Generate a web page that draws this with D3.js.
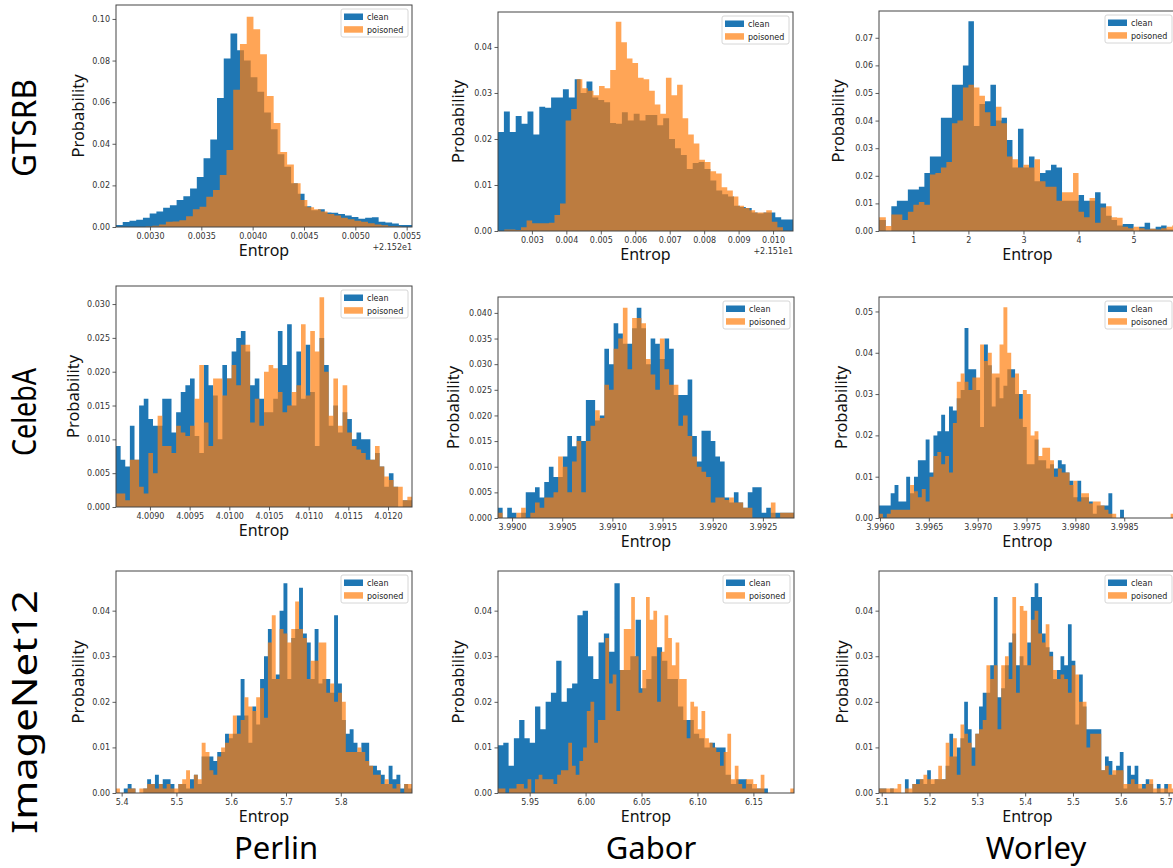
<!DOCTYPE html>
<html><head><meta charset="utf-8">
<script src="https://cdn.jsdelivr.net/npm/d3@7"></script>
<style>body{margin:0;background:#fff} svg{display:block}</style>
</head><body>
<svg id="chart" width="1173" height="868"></svg>
<script>
// ---------------- DATA ----------------
const rowLabels = ["GTSRB", "CelebA", "ImageNet12"];
const colLabels = ["Perlin", "Gabor", "Worley"];
const seriesNames = ["clean", "poisoned"];
const xAxisTitle = "Entrop";
const yAxisTitle = "Probability";

// Panel 1: GTSRB / Perlin (values relative to +2.152e1)
const p1Clean = [0.001,0.0024,0.003,0.0035,0.0045,0.0065,0.0075,0.0093,0.0105,0.013,0.0148,0.0185,0.024,0.033,0.042,0.062,0.081,0.093,0.085,0.080,0.072,0.065,0.055,0.047,0.035,0.029,0.021,0.016,0.010,0.008,0.0085,0.007,0.0068,0.0063,0.0055,0.0048,0.0040,0.0045,0.0047,0.0025,0.0022,0.0017,0.001,0.001];
const p1CleanRange = [0.002669, 0.005555];
const p1Poisoned = [0.0003,0.0006,0.0012,0.0025,0.0027,0.0033,0.0052,0.0085,0.0097,0.0145,0.0178,0.025,0.037,0.066,0.088,0.101,0.095,0.083,0.063,0.050,0.036,0.030,0.021,0.013,0.0095,0.0085,0.0075,0.0062,0.0055,0.0045,0.0037,0.0030,0.0025,0.0018,0.0012,0.0008,0.0004,0.0003];
const p1PoisonedRange = [0.002958, 0.005451];
const p1XDomain = [0.002669, 0.005552];
const p1YMax = 0.1067;
const p1XTicks = [0.0030,0.0035,0.0040,0.0045,0.0050,0.0055];
const p1YTicks = [0,0.02,0.04,0.06,0.08,0.10];
const p1Offset = "+2.152e1";

// Panel 2: GTSRB / Gabor (values relative to +2.151e1)
const p2Clean = [0.0215,0.026,0.0215,0.025,0.0233,0.026,0.021,0.027,0.0268,0.029,0.029,0.0308,0.029,0.033,0.030,0.0325,0.029,0.0285,0.028,0.0235,0.0233,0.0258,0.0240,0.0255,0.0240,0.0252,0.0252,0.0230,0.0245,0.020,0.018,0.0165,0.0135,0.0148,0.015,0.0135,0.011,0.0088,0.0080,0.0075,0.0055,0.0052,0.0050,0.0040,0.0038,0.0040,0.0040,0.0030,0.0025,0.0025];
const p2CleanRange = [0.002016, 0.010579];
const p2Poisoned = [0.0003,0.0003,0.0002,0.0008,0.0023,0.0017,0.0017,0.0017,0.0018,0.0035,0.006,0.024,0.0265,0.033,0.031,0.0305,0.0295,0.0315,0.031,0.035,0.0455,0.041,0.0375,0.0365,0.0333,0.033,0.0305,0.0275,0.0255,0.0333,0.0295,0.0318,0.0245,0.021,0.019,0.0155,0.015,0.013,0.0125,0.0095,0.0088,0.0075,0.0055,0.005,0.0045,0.004,0.004,0.0045,0.002,0.0008];
const p2PoisonedRange = [0.002199, 0.010288];
const p2XDomain = [0.002016, 0.010579];
const p2YMax = 0.0476;
const p2XTicks = [0.003,0.004,0.005,0.006,0.007,0.008,0.009,0.010];
const p2YTicks = [0,0.01,0.02,0.03,0.04];
const p2Offset = "+2.151e1";

// Panel 3: GTSRB / Worley
const p3Clean = [0.004,0.004,0.0,0.009,0.011,0.011,0.015,0.015,0.016,0.021,0.027,0.027,0.041,0.041,0.053,0.053,0.060,0.076,0.038,0.046,0.047,0.053,0.040,0.041,0.033,0.023,0.037,0.023,0.027,0.018,0.021,0.022,0.024,0.023,0.011,0.011,0.011,0.013,0.011,0.011,0.014,0.010,0.0055,0.004,0.002,0.0025,0.0025,0.0,0.0015,0.003,0.0008,0.0015,0.002,0.0005,0.0005];
const p3CleanRange = [0.3, 5.8];
const p3Poisoned = [0.005,0.005,0.0018,0.006,0.006,0.004,0.007,0.0095,0.0105,0.0095,0.0205,0.021,0.023,0.025,0.039,0.040,0.052,0.053,0.052,0.049,0.043,0.038,0.045,0.039,0.027,0.026,0.023,0.024,0.023,0.026,0.018,0.016,0.016,0.011,0.014,0.014,0.021,0.007,0.005,0.012,0.003,0.0085,0.009,0.005,0.0048,0.0015,0.001,0.0015,0.001,0.0005,0.0008,0.0005,0.001,0.0015,0.002];
const p3PoisonedRange = [0.3, 5.8];
const p3XDomain = [0.376, 5.77];
const p3YMax = 0.0797;
const p3XTicks = [1,2,3,4,5];
const p3YTicks = [0,0.01,0.02,0.03,0.04,0.05,0.06,0.07];

// Panel 4: CelebA / Perlin
const p4Clean = [0.009,0.007,0.006,0.012,0.007,0.015,0.016,0.013,0.012,0.012,0.016,0.016,0.011,0.014,0.017,0.018,0.019,0.0105,0.008,0.021,0.018,0.0165,0.010,0.021,0.019,0.023,0.025,0.026,0.023,0.018,0.019,0.016,0.014,0.014,0.016,0.026,0.021,0.027,0.015,0.023,0.016,0.024,0.017,0.009,0.025,0.021,0.012,0.015,0.011,0.014,0.013,0.010,0.011,0.010,0.010,0.007,0.008,0.006,0.003,0.005,0.003,0.0,0.001,0.001];
const p4CleanRange = [4.008572, 4.012302];
const p4Poisoned = [0.002,0.002,0.001,0.007,0.007,0.003,0.002,0.008,0.005,0.0135,0.009,0.009,0.008,0.012,0.011,0.0105,0.012,0.016,0.021,0.0125,0.009,0.019,0.019,0.0165,0.019,0.021,0.018,0.024,0.024,0.0125,0.016,0.012,0.020,0.021,0.0205,0.017,0.014,0.015,0.017,0.018,0.027,0.0165,0.026,0.023,0.031,0.020,0.0135,0.019,0.012,0.018,0.011,0.009,0.0085,0.008,0.007,0.007,0.009,0.006,0.0045,0.004,0.003,0.003,0.001,0.0015];
const p4PoisonedRange = [4.008572, 4.012302];
const p4XDomain = [4.008572, 4.012302];
const p4YMax = 0.03267;
const p4XTicks = [4.0090,4.0095,4.0100,4.0105,4.0110,4.0115,4.0120];
const p4YTicks = [0,0.005,0.010,0.015,0.020,0.025,0.030];

// Panel 5: CelebA / Gabor
const p5Clean = [0.002,0,0.002,0.001,0,0.001,0.005,0.005,0.006,0.004,0.007,0.010,0.008,0.008,0.012,0.016,0.014,0.016,0.015,0.023,0.023,0.019,0.020,0.033,0.030,0.038,0.036,0.034,0.034,0.037,0.041,0.037,0.030,0.035,0.034,0.031,0.035,0.033,0.024,0.024,0.024,0.027,0.016,0.011,0.017,0.017,0.015,0.012,0.011,0.004,0.003,0.005,0.003,0.002,0.005,0.006,0.006,0.001,0.002,0.001,0.001,0.001,0.001,0.001];
const p5CleanRange = [3.98986, 3.99281];
const p5Poisoned = [0.001,0,0,0,0.001,0.002,0,0.001,0.003,0.002,0.004,0.004,0.005,0.012,0.010,0.005,0.011,0.015,0.005,0.015,0.018,0.021,0.0195,0.026,0.025,0.033,0.035,0.041,0.029,0.039,0.039,0.038,0.031,0.028,0.025,0.035,0.029,0.026,0.026,0.018,0.020,0.016,0.012,0.010,0.009,0.008,0.003,0.004,0.004,0.0035,0.004,0.003,0.003,0.002,0.002,0,0,0,0,0.003,0,0.001,0.001,0.001];
const p5PoisonedRange = [3.98986, 3.99281];
const p5XDomain = [3.98986, 3.99281];
const p5YMax = 0.0431;
const p5XTicks = [3.9900,3.9905,3.9910,3.9915,3.9920,3.9925];
const p5YTicks = [0,0.005,0.010,0.015,0.020,0.025,0.030,0.035,0.040];

// Panel 6: CelebA / Worley
const p6Clean = [0.003,0.003,0.003,0.006,0.008,0.004,0.004,0.010,0.006,0.010,0.014,0.014,0.019,0.011,0.020,0.021,0.025,0.021,0.027,0.026,0.029,0.031,0.046,0.036,0.036,0.031,0.022,0.042,0.037,0.027,0.034,0.029,0.032,0.036,0.036,0.030,0.030,0.022,0.013,0.013,0.019,0.014,0.014,0.012,0.013,0.012,0.014,0.013,0.011,0.009,0.005,0.009,0.005,0.005,0.004,0.001,0.003,0.003,0.003,0.006,0,0,0.002,0];
const p6CleanRange = [3.99599, 3.998537];
const p6Poisoned = [0.001,0,0.001,0.002,0.002,0.002,0.002,0.002,0.008,0.0065,0.005,0.007,0.004,0.010,0.015,0.016,0.013,0.015,0.011,0.023,0.033,0.035,0.033,0.031,0.034,0.034,0.042,0.038,0.040,0.035,0.035,0.042,0.051,0.040,0.034,0.035,0.024,0.031,0.030,0.020,0.021,0.015,0.017,0.017,0.014,0.010,0.012,0.011,0.011,0.008,0.009,0.004,0.006,0.006,0.0035,0.004,0.004,0.003,0.002,0.001,0.001,0,0,0,0,0,0,0,0,0,0,0,0,0,0,0.001];
const p6PoisonedRange = [3.99599, 3.999015];
const p6XDomain = [3.99599, 3.99903];
const p6YMax = 0.0535;
const p6XTicks = [3.9960,3.9965,3.9970,3.9975,3.9980,3.9985];
const p6YTicks = [0,0.01,0.02,0.03,0.04,0.05];

// Panel 7: ImageNet12 / Perlin
const p7Clean = [0,0,0.001,0.002,0.001,0,0,0.001,0.003,0.002,0.004,0.002,0.003,0.003,0.002,0,0.002,0.002,0.001,0.003,0.004,0.002,0.008,0.008,0.008,0.007,0.009,0.009,0.013,0.012,0.013,0.017,0.025,0.017,0.011,0.019,0.015,0.025,0.030,0.036,0.025,0.026,0.040,0.046,0.025,0.034,0.036,0.045,0.035,0.033,0.025,0.036,0.024,0.025,0.025,0.022,0.039,0.024,0.016,0.013,0.014,0.011,0.009,0.011,0.011,0.006,0.006,0.005,0.004,0.002,0.006,0.003,0.004,0.001,0.002,0.001];
const p7CleanRange = [5.3897, 5.930];
const p7Poisoned = [0.001,0,0,0.001,0.001,0,0.001,0.001,0.002,0.002,0.001,0.002,0.001,0.002,0.001,0.001,0.002,0.003,0.005,0.001,0.004,0.003,0.011,0.009,0.005,0.004,0.008,0.010,0.011,0.013,0.017,0.013,0.016,0.021,0.019,0.018,0.021,0.023,0.0165,0.033,0.039,0.025,0.036,0.035,0.033,0.036,0.042,0.036,0.034,0.025,0.029,0.029,0.033,0.033,0.022,0.024,0.020,0.022,0.020,0.009,0.009,0.009,0.010,0.009,0.007,0.006,0.004,0.004,0.002,0.003,0.002,0.001,0.002,0,0.002,0.002];
const p7PoisonedRange = [5.3897, 5.930];
const p7XDomain = [5.3897, 5.930];
const p7YMax = 0.0487;
const p7XTicks = [5.4,5.5,5.6,5.7,5.8];
const p7YTicks = [0,0.01,0.02,0.03,0.04];

// Panel 8: ImageNet12 / Gabor
const p8Clean = [0.0105,0.011,0.006,0.012,0.016,0.012,0.011,0.019,0.014,0.020,0.022,0.029,0.020,0.023,0.024,0.039,0.040,0.030,0.025,0.033,0.035,0.031,0.046,0.027,0.027,0.030,0.038,0.023,0.025,0.030,0.032,0.029,0.025,0.025,0.019,0.016,0.016,0.013,0.012,0.010,0.011,0.010,0.010,0.004,0.002,0.003,0.003,0.002,0.001,0.001,0.001];
const p8CleanRange = [5.9217, 6.1630];
const p8Poisoned = [0.001,0.001,0,0.001,0.001,0.002,0.002,0.001,0.003,0,0.003,0.004,0.003,0.003,0.003,0.002,0.004,0.005,0.005,0.011,0.006,0.004,0.007,0.010,0.018,0.020,0.011,0.016,0.016,0.034,0.024,0.026,0.018,0.027,0.036,0.036,0.043,0.030,0.022,0.027,0.043,0.038,0.040,0.020,0.031,0.039,0.034,0.028,0.033,0.025,0.025,0.012,0.020,0.019,0.014,0.018,0.012,0.011,0.010,0.009,0.006,0.009,0.013,0.003,0.006,0.002,0.001,0.003,0.003,0.002,0.001,0.004,0,0,0,0,0,0,0,0.001];
const p8PoisonedRange = [5.9217, 6.1863];
const p8XDomain = [5.9217, 6.1863];
const p8YMax = 0.0487;
const p8XTicks = [5.95,6.00,6.05,6.10,6.15];
const p8YTicks = [0,0.01,0.02,0.03,0.04];

// Panel 9: ImageNet12 / Worley
const p9Clean = [0.001,0.001,0,0.001,0,0,0,0.003,0,0.002,0.003,0.003,0.002,0.005,0.002,0.003,0.003,0.003,0.006,0.013,0.008,0.010,0.012,0.020,0.014,0.010,0.013,0.019,0.022,0.022,0.028,0.043,0.021,0.023,0.028,0.033,0.035,0.028,0.030,0.028,0.033,0.043,0.046,0.043,0.035,0.032,0.031,0.025,0.027,0.030,0.028,0.037,0.029,0.015,0.026,0.019,0.014,0.014,0.014,0.014,0.005,0.008,0.007,0.004,0.006,0.009,0.001,0.006,0.004,0.006,0.001,0.002,0.003,0.002,0,0.002,0,0.002,0,0];
const p9CleanRange = [5.0944, 5.7141];
const p9Poisoned = [0.001,0.001,0.001,0.001,0.001,0.002,0,0.001,0.001,0.002,0.002,0.003,0.004,0.003,0.003,0.003,0.006,0.003,0.011,0.008,0.012,0.004,0.015,0.013,0.011,0.006,0.013,0.014,0.016,0.028,0.025,0.028,0.014,0.028,0.030,0.025,0.043,0.022,0.041,0.040,0.028,0.038,0.040,0.035,0.033,0.037,0.030,0.027,0.025,0.026,0.025,0.022,0.028,0.026,0.020,0.020,0.010,0.013,0.013,0.013,0.005,0.006,0.004,0.005,0.005,0.005,0.002,0.002,0.003,0.002,0.002,0.001,0.002,0.003,0.001,0.001,0.001,0.001,0.002,0.001];
const p9PoisonedRange = [5.0944, 5.7141];
const p9XDomain = [5.0944, 5.7154];
const p9YMax = 0.0487;
const p9XTicks = [5.1,5.2,5.3,5.4,5.5,5.6,5.7];
const p9YTicks = [0,0.01,0.02,0.03,0.04];

// ---------------- PANEL TABLE (built from the arrays) ----------------
const panels = [
  {clean:p1Clean, cleanRange:p1CleanRange, poisoned:p1Poisoned, poisonedRange:p1PoisonedRange, xDomain:p1XDomain, yMax:p1YMax, xTicks:p1XTicks, yTicks:p1YTicks, xFmt:".4f", yFmt:".2f", offset:p1Offset},
  {clean:p2Clean, cleanRange:p2CleanRange, poisoned:p2Poisoned, poisonedRange:p2PoisonedRange, xDomain:p2XDomain, yMax:p2YMax, xTicks:p2XTicks, yTicks:p2YTicks, xFmt:".3f", yFmt:".2f", offset:p2Offset},
  {clean:p3Clean, cleanRange:p3CleanRange, poisoned:p3Poisoned, poisonedRange:p3PoisonedRange, xDomain:p3XDomain, yMax:p3YMax, xTicks:p3XTicks, yTicks:p3YTicks, xFmt:"d", yFmt:".2f"},
  {clean:p4Clean, cleanRange:p4CleanRange, poisoned:p4Poisoned, poisonedRange:p4PoisonedRange, xDomain:p4XDomain, yMax:p4YMax, xTicks:p4XTicks, yTicks:p4YTicks, xFmt:".4f", yFmt:".3f"},
  {clean:p5Clean, cleanRange:p5CleanRange, poisoned:p5Poisoned, poisonedRange:p5PoisonedRange, xDomain:p5XDomain, yMax:p5YMax, xTicks:p5XTicks, yTicks:p5YTicks, xFmt:".4f", yFmt:".3f"},
  {clean:p6Clean, cleanRange:p6CleanRange, poisoned:p6Poisoned, poisonedRange:p6PoisonedRange, xDomain:p6XDomain, yMax:p6YMax, xTicks:p6XTicks, yTicks:p6YTicks, xFmt:".4f", yFmt:".2f"},
  {clean:p7Clean, cleanRange:p7CleanRange, poisoned:p7Poisoned, poisonedRange:p7PoisonedRange, xDomain:p7XDomain, yMax:p7YMax, xTicks:p7XTicks, yTicks:p7YTicks, xFmt:".1f", yFmt:".2f"},
  {clean:p8Clean, cleanRange:p8CleanRange, poisoned:p8Poisoned, poisonedRange:p8PoisonedRange, xDomain:p8XDomain, yMax:p8YMax, xTicks:p8XTicks, yTicks:p8YTicks, xFmt:".2f", yFmt:".2f"},
  {clean:p9Clean, cleanRange:p9CleanRange, poisoned:p9Poisoned, poisonedRange:p9PoisonedRange, xDomain:p9XDomain, yMax:p9YMax, xTicks:p9XTicks, yTicks:p9YTicks, xFmt:".1f", yFmt:".2f"}
];

// ---------------- LAYOUT ----------------
const W = 1173;
const boxes = [
  {x:116, y:5,   w:296, h:222},
  {x:498, y:12,  w:295, h:219},
  {x:879, y:11,  w:297, h:220},
  {x:116, y:286, w:296, h:221},
  {x:498, y:297, w:296, h:221},
  {x:879, y:297, w:297, h:221},
  {x:116, y:571, w:296, h:222},
  {x:498, y:571, w:296, h:222},
  {x:879, y:571, w:297, h:222}
];
const yTitleOffset = [39, 41, 42, 44, 46, 39, 39, 41, 38];
const colors = {clean:"#1f77b4", poisoned:"#ff7f0e"};
const labelFont = "'Noto Sans', 'Open Sans', sans-serif";
const tickFont = "'DejaVu Sans', sans-serif";

const svg = d3.select("#chart");

function stepData(vals, range) {
  const bw = (range[1] - range[0]) / vals.length;
  const pts = vals.map((v, i) => ({x: range[0] + i * bw, y: v}));
  pts.push({x: range[1], y: vals[vals.length - 1]});
  return pts;
}

panels.forEach((p, idx) => {
  const b = boxes[idx];
  const g = svg.append("g").attr("transform", `translate(${b.x},${b.y})`);
  const x = d3.scaleLinear().domain(p.xDomain).range([0, b.w]);
  const y = d3.scaleLinear().domain([0, p.yMax]).range([b.h, 0]);

  const clipId = "clip" + idx;
  g.append("clipPath").attr("id", clipId).append("rect").attr("width", b.w).attr("height", b.h);

  const area = d3.area().curve(d3.curveStepAfter)
    .x(d => x(d.x)).y0(y(0)).y1(d => y(d.y));

  const plot = g.append("g").attr("clip-path", `url(#${clipId})`);
  plot.append("path").datum(stepData(p.clean, p.cleanRange))
    .attr("d", area).attr("fill", colors.clean);
  plot.append("path").datum(stepData(p.poisoned, p.poisonedRange))
    .attr("d", area).attr("fill", colors.poisoned).attr("fill-opacity", 0.7);

  // axes
  const xAxis = d3.axisBottom(x).tickValues(p.xTicks).tickFormat(d3.format(p.xFmt)).tickSizeOuter(0).tickSize(3.5).tickPadding(2.5);
  const yAxis = d3.axisLeft(y).tickValues(p.yTicks).tickFormat(d3.format(p.yFmt)).tickSizeOuter(0).tickSize(3.5).tickPadding(2.5);
  const gx = g.append("g").attr("transform", `translate(0,${b.h})`).call(xAxis);
  const gy = g.append("g").call(yAxis);
  [gx, gy].forEach(a => {
    a.select(".domain").remove();
    a.selectAll(".tick line").attr("stroke", "#333").attr("stroke-width", 0.8);
    a.selectAll(".tick text").attr("fill", "#333").style("font-family", tickFont).style("font-size", "8px");
  });
  // keep x tick labels inside the page at the right edge
  gx.selectAll(".tick text").each(function(d) {
    const bb = this.getBBox();
    const right = b.x + x(d) + bb.width / 2;
    if (right > W - 1) d3.select(this).attr("dx", (W - 1 - right) + "px");
  });

  // frame
  g.append("rect").attr("width", b.w).attr("height", b.h)
    .attr("fill", "none").attr("stroke", "#444").attr("stroke-width", 1);

  if (p.offset) {
    g.append("text").attr("x", b.w).attr("y", b.h + 23).attr("text-anchor", "end")
      .style("font-family", tickFont).style("font-size", "8px").attr("fill", "#333").text(p.offset);
  }

  // axis titles
  g.append("text").attr("x", b.w / 2).attr("y", b.h + 29).attr("text-anchor", "middle")
    .style("font-family", labelFont).style("font-size", "16px").attr("fill", "#111").text(xAxisTitle);
  g.append("text").attr("transform", `translate(${-yTitleOffset[idx]},${b.h / 2}) rotate(-90)`)
    .attr("text-anchor", "middle").attr("dominant-baseline", "central")
    .style("font-family", labelFont).style("font-size", "16.5px").attr("fill", "#111").text(yAxisTitle);

  // legend
  const lw = 67, lh = 28;
  const lg = g.append("g").attr("transform", `translate(${b.w - 4 - lw},4)`);
  lg.append("rect").attr("width", lw).attr("height", lh).attr("rx", 2)
    .attr("fill", "#fff").attr("fill-opacity", 0.85).attr("stroke", "#ccc").attr("stroke-width", 0.8);
  seriesNames.forEach((name, i) => {
    lg.append("rect").attr("x", 3).attr("y", 4.5 + i * 12.7).attr("width", 19).attr("height", 6.5)
      .attr("fill", colors[name]).attr("fill-opacity", name === "poisoned" ? 0.7 : 1);
    lg.append("text").attr("x", 26).attr("y", 10.8 + i * 12.7)
      .style("font-family", tickFont).style("font-size", "8px").attr("fill", "#222").text(name);
  });
});

// row labels
const rowCenters = [128, 412, 712];
const rowLengths = [98, 88, 244];
const rowSizes = [33, 32, 35];
rowLabels.forEach((t, i) => {
  svg.append("text").attr("transform", `translate(23,${rowCenters[i]}) rotate(-90)`)
    .attr("text-anchor", "middle").attr("dominant-baseline", "central")
    .attr("textLength", rowLengths[i]).attr("lengthAdjust", "spacingAndGlyphs")
    .style("font-family", labelFont).style("font-size", rowSizes[i] + "px").attr("fill", "#000").text(t);
});
// column labels
const colCenters = [276, 651, 1036];
colLabels.forEach((t, i) => {
  svg.append("text").attr("x", colCenters[i]).attr("y", 859).attr("text-anchor", "middle")
    .style("font-family", labelFont).style("font-size", "31px").attr("fill", "#000").text(t);
});
</script>
</body></html>
